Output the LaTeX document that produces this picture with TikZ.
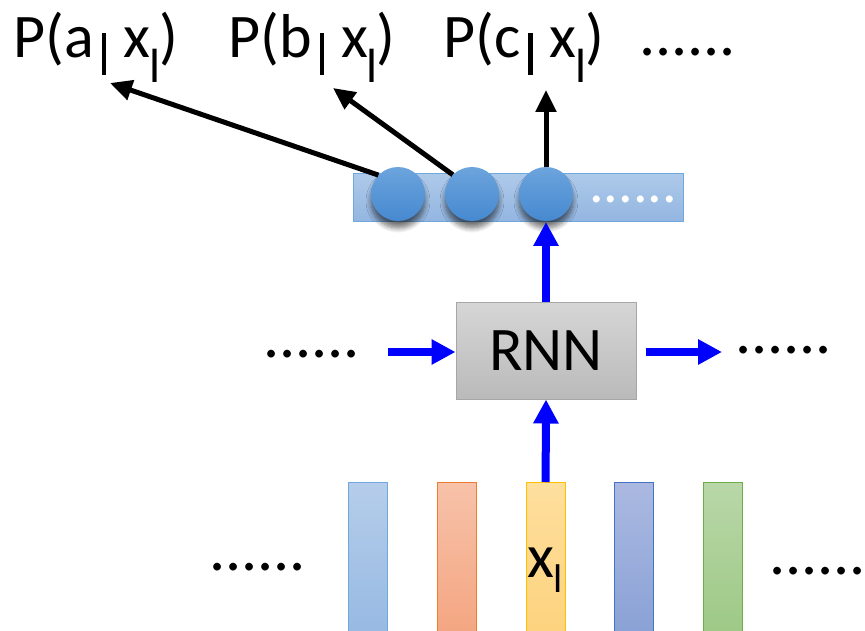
\documentclass[tikz,border=0pt]{standalone}
\usepackage{fontspec}
\setmainfont{Carlito}
\usetikzlibrary{arrows.meta,shadows.blur}
\definecolor{balltop}{HTML}{6CA4DD}
\definecolor{ballbot}{HTML}{4689D0}
\definecolor{vectop}{HTML}{AECAEA}
\definecolor{vecbot}{HTML}{93B5E0}
\definecolor{vecline}{HTML}{6FA8DC}
\definecolor{rnntop}{HTML}{D6D6D6}
\definecolor{rnnbot}{HTML}{BABABA}
\definecolor{rnnline}{HTML}{A6A6A6}
\definecolor{bAtop}{HTML}{B5CDEA}
\definecolor{bAbot}{HTML}{95B8E2}
\definecolor{bAline}{HTML}{6FA8DC}
\definecolor{bBtop}{HTML}{F7C2A9}
\definecolor{bBbot}{HTML}{F4A47F}
\definecolor{bBline}{HTML}{ED7D31}
\definecolor{bCtop}{HTML}{FEDF9E}
\definecolor{bCbot}{HTML}{FDD27C}
\definecolor{bCline}{HTML}{FFC000}
\definecolor{bDtop}{HTML}{ABB9E1}
\definecolor{bDbot}{HTML}{88A0D5}
\definecolor{bDline}{HTML}{4472C4}
\definecolor{bEtop}{HTML}{B9D7A8}
\definecolor{bEbot}{HTML}{9CC884}
\definecolor{bEline}{HTML}{70AD47}
\newcommand{\condp}[1]{P(#1\hspace{8pt}\rule[-17pt]{4.5pt}{42pt}\hspace{17pt}x\hspace{-1pt}\raisebox{-25pt}{\fontsize{48}{48}\selectfont l}\hspace{-1pt})}
\begin{document}
\begin{tikzpicture}[x=1pt,y=-1pt,
  lbl/.style={font=\fontsize{62}{62}\selectfont, inner sep=0pt, anchor=base west},
  dotrow/.style={font=\fontsize{64}{64}\selectfont, inner sep=0pt, anchor=base west},
  barbox/.style={line width=1.2pt, minimum width=39pt, minimum height=160pt, inner sep=0pt, anchor=north west},
  ball/.style={circle, minimum size=54pt, inner sep=0pt, top color=balltop, bottom color=ballbot,
    blur shadow={shadow xshift=0pt, shadow yshift=-7pt, shadow blur steps=8, shadow opacity=55, shadow blur radius=5pt}},
  bluearr/.style={draw=blue, line width=8pt, -{Triangle[length=24pt,width=24pt]}},
  blackarr/.style={draw=black, line width=5pt, -{Triangle[length=22pt,width=20pt]}}]
\useasboundingbox (0,0) rectangle (865,631);

% top labels
\node[lbl] (pa) at (13,58) {\condp{a}};
\node[lbl] (pb) at (228,58) {\condp{b}};
\node[lbl] (pc) at (443,58) {\condp{c}};
\node[dotrow] (tdots) at (639,56) {......};

% output vector
\node[draw=vecline, line width=1pt, top color=vectop, bottom color=vecbot, minimum width=330pt, minimum height=48pt, inner sep=0pt, anchor=north west] (vec) at (353,173) {};
\node[ball] (c1) at (398,194) {};
\node[ball] (c2) at (472,194) {};
\node[ball] (c3) at (546,194) {};
\node[font=\fontsize{58}{58}\selectfont, text=white, inner sep=0pt, anchor=base west] (wdots) at (589,203) {......};

% black arrows
\coordinate (ta) at (110,83);
\coordinate (tb) at (333,88);
\coordinate (tc) at (546,90);
\draw[blackarr] (c1.136) -- (ta);
\draw[blackarr] (c2.135) -- (tb);
\draw[blackarr] (c3.north) -- (tc);

% RNN
\node[draw=rnnline, line width=1pt, top color=rnntop, bottom color=rnnbot, minimum width=180pt, minimum height=97pt, inner sep=0pt, font=\fontsize{62}{62}\selectfont] (rnn) at (546,350.5) {RNN};
\node[dotrow] (ldots) at (263,357) {......};
\node[dotrow] (rdots) at (735,353) {......};

% input bars
\begin{scope}
\clip (0,0) rectangle (865,631);
\node[barbox, draw=bAline, top color=bAtop, bottom color=bAbot] (b1) at (348,482) {};
\node[barbox, draw=bBline, top color=bBtop, bottom color=bBbot] (b2) at (437,482) {};
\node[barbox, draw=bCline, top color=bCtop, bottom color=bCbot] (xl) at (525.5,482) {};
\node[barbox, draw=bDline, top color=bDtop, bottom color=bDbot] (b4) at (614,482) {};
\node[barbox, draw=bEline, top color=bEtop, bottom color=bEbot] (b5) at (703,482) {};
\end{scope}
\node[lbl] (xlab) at (527,577) {x\hspace{-1pt}\raisebox{-15pt}{\fontsize{40}{40}\selectfont l}};
\node[dotrow] (bldots) at (209,570) {......};
\node[dotrow] (brdots) at (769,574) {......};

% blue arrows
\draw[bluearr] (xl.north) -- (rnn.south);
\draw[bluearr] (rnn.north) -- (rnn.north |- vec.south);
\coordinate (lstart) at (388,352);
\draw[bluearr] (lstart) -- (lstart -| rnn.west);
\coordinate (rend) at (722,352);
\draw[bluearr, shorten <=9pt] (rnn.east |- rend) -- (rend);
\end{tikzpicture}
\end{document}
